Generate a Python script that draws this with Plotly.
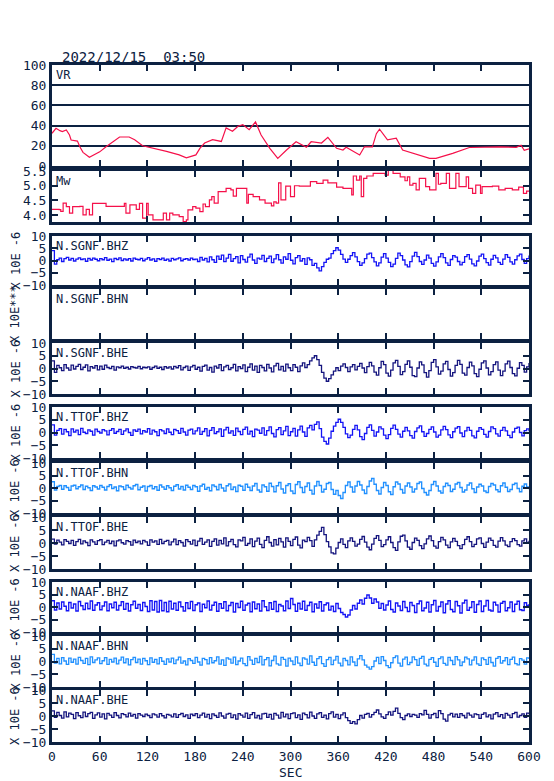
import plotly.graph_objects as go

# ---------------- data ----------------
VR_T = [0, 5, 10, 13, 18, 22, 24, 32, 35, 39, 47, 55, 60, 68, 76, 85, 97, 104, 114, 127, 144, 160, 169, 181,
        186, 192, 202, 213, 219, 227, 234, 240, 248, 256, 263, 274, 284, 295, 307, 320, 326, 339, 347, 358,
        366, 370, 387, 393, 403, 408, 412, 422, 433, 441, 458, 475, 483, 504, 525, 542, 563, 584, 590, 594, 600]
VR = [32.4, 37.3, 35.0, 34.0, 35.6, 30.7, 25.7, 24.7, 19.0, 13.5, 8.6, 12.0, 14.0, 19.0, 24.0, 28.7, 28.7, 26.0,
      20.0, 17.8, 14.5, 11.0, 8.0, 11.0, 17.5, 22.7, 26.0, 24.3, 37.7, 34.4, 39.4, 41.0, 36.0, 43.6, 30.7, 17.5,
      7.6, 15.8, 24.0, 18.6, 24.0, 22.7, 28.4, 17.5, 15.8, 18.5, 10.9, 19.0, 19.0, 32.0, 36.4, 26.0, 27.6, 15.8,
      11.6, 7.6, 7.6, 12.5, 18.3, 18.5, 19.0, 18.5, 20.5, 15.6, 17.0]

MW_T = [0, 9, 11, 14, 18, 22, 26, 35, 39, 43, 47, 51, 60, 68, 89, 91, 93, 98, 106, 110, 114, 119, 121, 127,
        135, 140, 144, 148, 152, 160, 165, 169, 171, 177, 181, 186, 190, 193, 198, 201, 204, 209, 219, 225,
        228, 232, 240, 245, 247, 253, 261, 268, 276, 279, 282, 285, 288, 294, 300, 305, 311, 322, 325, 333,
        341, 347, 358, 366, 373, 377, 379, 383, 387, 389, 392, 396, 404, 413, 419, 423, 429, 438, 444, 447,
        450, 454, 458, 462, 470, 475, 483, 486, 489, 496, 500, 508, 512, 521, 524, 529, 533, 539, 541, 554,
        562, 570, 579, 587, 593, 597, 600]
MW = [4.20, 4.19, 4.13, 4.41, 4.29, 4.07, 4.29, 4.30, 4.01, 4.20, 4.01, 4.40, 4.40, 4.30, 4.30, 4.40, 4.07,
      4.35, 4.20, 4.40, 3.90, 4.40, 4.01, 3.84, 3.84, 4.07, 3.84, 4.07, 4.01, 3.95, 3.78, 3.84, 4.18, 4.29,
      4.24, 4.12, 4.38, 4.29, 4.52, 4.63, 4.41, 4.80, 4.91, 4.86, 4.65, 4.91, 4.91, 4.41, 4.71, 4.63, 4.52,
      4.41, 4.32, 4.45, 4.41, 5.10, 4.52, 4.99, 4.63, 5.00, 4.99, 4.99, 5.14, 5.08, 5.19, 5.10, 4.95, 4.91,
      4.91, 4.69, 5.33, 5.19, 5.33, 4.63, 5.25, 5.33, 5.42, 5.42, 5.36, 5.53, 5.42, 5.30, 5.17, 5.30, 5.02,
      5.08, 4.86, 5.25, 4.97, 4.86, 5.42, 5.05, 5.08, 5.42, 4.91, 5.42, 4.97, 5.30, 4.91, 4.74, 5.02, 4.74,
      4.97, 4.99, 4.86, 4.91, 4.86, 4.95, 4.74, 4.82, 4.82]

WAVE_T = list(range(0, 601, 3))

SGNF_BHZ = [
    4.0, -1.5, 0.3, 1.0, -0.4, 0.8, 1.3, 0.2, 0.9, -0.2,
    0.6, 1.1, 0.4, 0.7, -0.3, 0.9, 0.2, 1.0, 0.5, -0.1,
    0.8, 0.3, 1.2, 0.1, 0.6, -0.5, 0.9, 0.4, 1.1, 0.0,
    0.7, 0.2, 0.8, -0.2, 1.0, 0.5, 0.3, 0.9, -0.1, 0.6,
    1.2, 0.2, 0.7, -0.3, 0.8, 0.4, 1.0, 0.1, 0.6, -0.2,
    0.9, 0.3, 0.7, 1.1, -0.1, 0.5, 0.8, 0.2, 1.0, 0.4,
    0.6, -0.4, 1.3, 0.2, 0.9, -0.6, 1.5, 0.3, -0.8, 1.8,
    0.5, 2.2, -0.5, 1.0, 2.5, -0.3, 0.8, 1.6, -1.0, 2.0,
    0.4, -0.7, 1.4, 2.6, 0.2, -1.2, 1.0, 0.6, 2.1, -0.4,
    0.9, 1.8, -0.9, 0.7, 2.4, 0.3, -1.1, 1.5, 0.5, 2.8,
    0.1, -1.4, 1.2, 2.0, -0.2, 0.8, -1.6, 1.1, 0.3, -2.0,
    -1.2, -3.0, -4.2, -2.5, -0.8, 0.5, 1.0, 2.8, 4.0, 5.2,
    4.2, 2.5, 0.6, -0.8, 0.5, 2.0, 3.2, 1.5, -0.5, -2.0,
    -1.0, 0.8, 2.6, 3.0, 1.2, -0.6, -2.2, -1.0, 1.4, 2.8,
    1.0, -0.8, -2.5, -1.5, 0.9, 3.0, 2.0, 0.2, -1.8, -2.6,
    -0.5, 1.8, 3.3, 1.6, -0.4, -1.6, 0.2, 2.2, 1.0, -1.2,
    -2.3, -0.6, 1.5, 2.8, 1.2, -1.0, -2.0, 0.4, 2.0, 1.4,
    -0.4, -1.8, -0.8, 1.6, 2.4, 0.6, -1.4, -2.2, -0.2, 1.8,
    2.6, 0.8, -0.9, -1.9, 0.5, 2.1, 1.1, -0.8, -1.6, 0.6,
    2.4, 1.3, -0.6, -1.5, 0.3, 1.9, 2.6, 0.4, -1.2, 0.8,
    2.0]

SGNF_BHE = [
    3.0, -1.5, 1.2, 0.3, -0.8, 1.5, 0.2, -0.6, 1.3, -0.2,
    0.8, 1.6, -0.4, 0.5, 1.4, -0.9, 0.7, 0.2, 1.1, -0.5,
    0.9, -0.3, 1.3, 0.4, 0.0, 0.8, -0.6, 0.6, 0.3, 0.9,
    0.1, 0.5, -0.2, 0.7, 0.4, 0.2, 0.8, -0.1, 0.5, 0.3,
    0.6, -0.3, 0.4, 0.9, 0.1, 0.5, -0.4, 0.7, 0.2, 0.6,
    -0.2, 0.8, 0.3, 1.1, -0.5, 0.4, 0.9, -0.7, 0.6, 1.2,
    -0.3, 0.5, -1.0, 0.8, 1.3, -0.6, 0.4, -1.4, 0.9, 0.2,
    1.5, -0.8, 0.6, 1.2, -0.4, 0.3, 1.6, -0.9, 0.7, 0.0,
    1.4, -1.2, 0.5, 1.8, -0.6, 0.9, -1.5, 1.2, 0.4, -0.9,
    1.6, 0.2, -1.3, 1.0, 2.0, -0.5, 0.8, -1.0, 1.7, 0.3,
    -0.8, 1.5, 0.5, -1.2, 1.0, 2.2, 0.4, 1.5, 3.0, 4.2,
    5.0, 3.5, 1.2, -1.5, -3.8, -5.0, -4.0, -2.5, -1.0, 0.3,
    -0.8, 0.9, 1.8, 0.4, -1.2, 0.6, 1.5, -0.5, 0.8, 2.0,
    0.2, -1.6, 0.7, 2.4, 1.0, -1.4, -2.6, 0.3, 2.8, 1.5,
    -1.8, -3.0, -0.6, 2.2, 3.2, 0.8, -2.4, -1.2, 1.6, 3.0,
    0.5, -2.8, -3.2, 0.2, 2.6, 1.4, -1.6, -3.4, -0.8, 2.4,
    3.5, 0.6, -2.2, -1.0, 1.8, 2.8, -0.4, -3.0, -1.6, 1.2,
    3.2, 1.6, -1.8, -2.6, 0.4, 2.5, 1.0, -2.0, -3.2, -0.3,
    2.2, 3.0, 0.2, -2.5, -1.2, 1.5, 2.6, -0.6, -2.8, -1.0,
    1.8, 2.9, 0.4, -2.0, -2.9, 0.1, 2.3, 1.2, -1.4, 0.6,
    2.2]

TTOF_BHZ = [
    3.0, -1.0, 0.8, 1.5, -0.6, 1.2, 0.3, -1.2, 1.4, 0.2,
    0.9, -0.8, 1.6, 0.1, -0.4, 1.0, 0.5, -1.0, 1.3, 0.4,
    -0.2, 1.1, 0.6, -0.9, 0.8, 1.5, -0.3, 0.4, 1.2, -0.7,
    0.6, 1.4, 0.0, -1.1, 1.0, 0.5, 1.3, -0.5, 0.7, 0.2,
    1.5, -0.6, 0.9, 0.3, -1.2, 1.1, 0.6, -0.4, 1.4, 0.1,
    -0.8, 1.2, 0.7, -0.3, 1.6, 0.2, -1.0, 0.9, 1.3, -0.5,
    0.6, 1.8, -0.7, 0.4, 1.5, -1.3, 0.8, 1.9, -0.4, 0.3,
    1.4, -1.5, 1.0, 2.0, -0.2, 0.6, -1.1, 1.7, 0.4, -0.8,
    1.2, 2.1, -0.6, 0.5, -1.6, 1.3, 0.9, -0.3, 1.8, -1.0,
    0.7, 2.2, -0.4, -1.7, 1.1, 1.9, -0.8, 0.6, 2.4, -1.2,
    0.3, 1.6, -1.4, 1.0, 2.5, 0.2, -1.5, 1.8, 2.8, 1.0,
    3.2, 4.2, 1.5, -1.8, -3.5, -4.5, -2.2, 0.5, 2.5, 4.0,
    5.2, 4.0, 2.0, -0.5, -2.0, -1.0, 1.2, 2.8, 1.0, -1.6,
    -2.8, -0.4, 2.0, 3.0, 0.8, -1.4, 0.2, 2.2, 1.4, -1.0,
    -2.4, -0.8, 1.6, 2.9, 1.2, -0.6, -1.8, 0.5, 2.0, 0.6,
    -1.2, -2.2, 0.4, 1.8, 2.6, 0.3, -1.5, -0.4, 1.2, 2.2,
    0.2, -1.8, -1.0, 1.0, 2.4, 1.1, -0.9, -2.0, 0.3, 1.7,
    2.3, -0.2, -1.6, 0.6, 2.0, 0.8, -1.3, -2.1, 0.5, 1.9,
    1.2, -0.7, -1.8, 0.4, 2.2, 1.5, -0.5, -1.4, 0.8, 2.0,
    0.6, -1.1, -2.0, 0.2, 1.6, 2.1, 0.0, -1.3, 0.7, 1.4,
    0.5]

TTOF_BHN = [
    2.5, -0.8, 0.6, 1.0, -0.5, 0.9, 0.2, -0.9, 0.8, 1.1,
    -0.3, 0.5, 1.2, -0.6, 0.7, 0.1, -1.0, 0.9, 0.4, -0.4,
    1.0, 0.3, -0.8, 0.6, 1.3, -0.2, 0.4, -1.1, 0.8, 0.5,
    -0.6, 1.1, 0.2, -0.4, 0.9, 1.4, -0.7, 0.3, 0.8, -1.2,
    0.6, 1.0, -0.3, 0.5, -0.9, 1.2, 0.4, -0.5, 0.9, 0.1,
    -1.0, 0.7, 1.3, -0.4, 0.6, -0.8, 1.1, 0.3, -0.6, 1.0,
    0.5, -1.3, 0.8, 1.5, -0.5, 0.2, -1.1, 1.2, 0.6, -0.7,
    1.4, 0.0, -1.2, 0.9, 1.6, -0.6, 0.4, -1.4, 1.1, 0.7,
    -0.9, 1.5, 0.3, -1.0, 0.8, 1.8, -0.8, -1.6, 1.2, 0.5,
    -1.3, 1.9, 0.6, -1.5, 0.9, 2.2, -0.4, -2.0, 1.0, 1.7,
    -1.2, -2.2, 1.4, 2.5, 0.2, -1.8, 0.6, 2.0, -0.9, -2.4,
    0.8, 2.6, 1.0, -1.6, -0.5, 1.8, 2.2, -0.6, -2.5, -1.0,
    -3.0, -4.2, -1.8, 1.0, 2.4, 0.4, -1.6, 0.8, 2.6, 1.2,
    -0.8, -2.2, 0.6, 2.8, 3.8, 1.5, -1.0, -2.4, 0.2, 2.2,
    1.0, -1.5, -2.6, 0.5, 2.4, 1.6, -0.6, -2.0, 0.8, 2.0,
    0.4, -1.6, -0.4, 1.8, 2.4, -0.2, -1.8, -2.8, -1.0, 1.4,
    2.6, 0.8, -1.2, -2.0, 0.6, 1.9, 1.0, -1.4, -0.5, 1.6,
    2.2, 0.2, -1.6, -0.8, 1.2, 2.0, -0.3, -1.8, 0.4, 1.5,
    0.8, -1.2, -1.8, 0.6, 1.8, 1.2, -0.7, -1.5, 0.9, 2.0,
    0.3, -1.4, -0.6, 1.4, 1.9, -0.2, -1.5, 0.7, 1.6, 0.4,
    -0.5]

TTOF_BHE = [
    1.5, -0.4, 1.1, 0.3, -0.7, 1.3, 0.6, -0.2, 1.0, -0.9,
    0.5, 1.4, -0.3, 0.8, 0.2, -1.0, 1.2, 0.4, -0.5, 0.9,
    1.3, -0.6, 0.3, 1.0, -0.2, 0.7, -1.1, 0.8, 1.2, 0.1,
    -0.4, 0.9, 0.5, -0.8, 1.1, 0.2, 0.7, -0.3, 1.0, 0.4,
    -0.9, 1.2, 0.3, 0.8, -0.5, 1.4, -0.2, 0.6, 1.0, -0.7,
    0.4, 1.5, -0.6, 0.9, 0.2, -1.2, 1.3, 0.5, -0.4, 1.1,
    -1.0, 0.7, 1.8, -0.5, 0.3, 1.2, -1.3, 0.6, 1.6, -0.8,
    1.0, -0.3, 2.0, -1.1, 0.5, 1.4, -0.6, -1.5, 1.2, 0.8,
    2.2, -0.9, -0.2, 1.6, -1.4, 0.7, 1.9, -0.5, -1.8, 1.0,
    2.4, 0.2, -1.2, 1.3, -0.7, 1.8, 0.4, -1.6, 2.0, 0.6,
    -1.0, 1.4, 2.3, -0.8, -1.9, 1.1, 0.5, 2.2, 0.9, -1.3,
    1.2, 3.0, 4.5, 6.0, 3.2, 0.5, -1.5, -3.8, -4.2, -2.0,
    0.2, 1.6, -0.5, -1.8, 0.8, 2.0, 0.6, -1.2, -0.4, 1.4,
    2.5, 0.3, -1.6, -2.6, -0.4, 1.8, 2.8, 1.0, -1.4, -0.6,
    1.2, 2.4, 0.2, -1.8, -2.8, 0.4, 2.6, 3.0, 0.8, -1.6,
    -2.4, 0.2, 1.9, 1.0, -1.0, -2.2, -0.3, 1.6, 2.7, 0.9,
    -1.2, -2.0, 0.5, 2.2, 1.2, -0.8, -1.8, 0.4, 1.8, 0.6,
    -1.0, -2.2, -0.6, 1.4, 2.4, 0.5, -1.4, -0.5, 1.6, 2.0,
    -0.2, -1.7, 0.3, 1.9, 1.0, -0.9, -1.6, 0.7, 2.1, 0.8,
    -0.8, -1.4, 0.5, 1.7, 0.9, -0.6, -1.2, 0.8, 1.6, 0.2,
    0.9]

NAAF_BHZ = [
    2.5, -1.2, 1.6, -0.8, 2.0, 0.3, -1.5, 1.8, -0.4, 1.2,
    -1.6, 2.2, 0.5, -1.0, 1.5, -0.7, 2.4, -1.3, 0.8, 1.7,
    -1.1, 0.4, 2.0, -1.5, 1.2, -0.3, 1.9, -1.2, 0.6, 2.1,
    -0.9, 1.4, -1.6, 0.9, 2.3, -0.5, 1.0, -1.4, 1.8, 0.2,
    -1.8, 2.5, -1.2, 2.2, -2.0, 2.6, -1.5, 1.8, -1.9, 2.3,
    -0.8, 1.5, -1.3, 2.0, 0.1, -1.6, 1.7, -0.6, 2.2, -1.4,
    0.9, 1.6, -1.8, 1.1, -0.3, 2.4, -1.2, 0.7, 1.9, -1.7,
    1.3, -0.5, 2.1, -1.5, 0.6, 1.8, -2.0, 1.4, -0.2, 2.3,
    -1.3, 0.8, 1.5, -1.9, 2.0, -0.7, 1.2, -1.6, 2.5, 0.1,
    -1.4, 1.7, -0.9, 2.2, -1.8, 1.0, 0.4, -1.5, 2.4, -0.6,
    3.4, 1.0, -1.7, 1.5, -0.8, 2.3, -1.3, 0.6, 1.9, -1.9,
    1.2, -0.4, 2.1, -1.6, 0.9, 1.6, -1.2, 0.3, -1.8, 1.4,
    -0.6, -2.2, -3.0, -4.0, -3.2, -1.2, 0.6, -0.8, 1.5, 2.8,
    1.2, 3.5, 4.8, 3.6, 1.5, 3.2, 2.0, -0.5, 1.4, -1.2,
    0.8, 2.4, -1.0, -2.0, 1.6, 0.4, -1.4, 2.2, -0.2, -1.8,
    1.8, 0.6, -2.2, 1.3, 2.4, -1.5, -0.4, 1.9, -2.0, 0.9,
    2.6, -1.6, 0.2, 2.0, -2.3, 1.2, 2.5, -1.0, -1.9, 2.2,
    0.5, -2.4, 1.6, 2.7, -1.3, -0.2, 2.1, -2.1, 1.0, 2.4,
    -1.8, 0.4, 2.6, -1.2, -1.6, 1.9, 0.8, -2.0, 1.5, 2.2,
    -1.5, -0.3, 2.0, -1.8, 1.1, 2.3, -1.1, -1.4, 1.7, 0.6,
    1.2]

NAAF_BHN = [
    2.8, -0.6, 1.2, -0.9, 1.5, 0.2, -1.1, 1.3, -0.3, 0.9,
    -1.0, 1.6, 0.4, -0.7, 1.2, -1.2, 1.8, -0.4, 0.6, 1.4,
    -0.8, 0.3, 1.5, -1.1, 0.8, -0.2, 1.3, -0.9, 0.5, 1.7,
    -0.5, 1.0, -1.3, 0.7, 1.6, -0.4, 0.9, -1.0, 1.2, 0.3,
    -1.2, 1.4, -0.3, 0.8, -0.9, 1.5, 0.1, -1.1, 1.0, -0.2,
    1.3, -0.8, 0.6, 1.7, -0.6, 0.2, -1.3, 1.1, 0.4, -0.7,
    1.6, -0.2, -1.4, 1.2, 0.7, -0.9, 1.5, -0.5, 0.3, 1.8,
    -1.0, 0.6, -1.5, 1.4, 0.9, -0.6, 1.7, -1.2, 0.2, 1.3,
    -0.8, -1.6, 1.9, 0.5, -1.1, 1.2, -0.4, 2.0, -1.3, 0.7,
    1.5, -1.7, 0.4, 2.1, -0.9, -1.4, 1.6, 0.8, -1.8, 1.3,
    0.2, -1.2, 1.8, -0.6, -1.6, 1.4, 0.9, -1.0, 2.2, -0.3,
    -1.5, 1.1, 1.9, -0.8, -1.9, 0.7, 1.6, -1.2, 0.5, 2.0,
    -0.6, -1.7, 1.2, 0.4, -1.3, 1.8, -0.2, -1.6, 1.0, 2.3,
    0.6, -1.4, -2.2, -3.0, -2.0, 0.2, 1.6, -0.8, 1.9, 0.4,
    -1.6, -2.4, -0.5, 1.5, 2.2, -0.6, -1.8, 0.9, 1.7, -1.2,
    -0.4, 1.8, 0.7, -1.5, 1.2, 2.0, -1.0, -1.7, 0.8, 1.5,
    -0.3, -1.9, 1.1, 1.8, -0.7, -1.4, 1.6, 0.4, -1.2, 1.9,
    0.6, -1.6, -0.2, 1.7, 1.0, -1.3, 0.5, 1.8, -0.9, -1.5,
    1.4, 0.7, -1.1, 1.6, -0.4, -1.8, 1.2, 1.9, -0.6, 0.3,
    1.5, -1.2, 0.8, 1.7, -0.8, -1.3, 1.1, 0.5, -1.0, 1.4,
    1.0]

NAAF_BHE = [
    2.0, -0.5, 1.4, 0.2, -0.8, 1.6, -0.3, 1.1, 0.6, -1.0,
    1.3, 0.1, -0.6, 1.5, -0.2, 0.9, 1.4, -0.9, 0.4, 1.2,
    -0.4, 0.8, -1.1, 1.0, 0.3, -0.5, 1.3, 0.2, -0.7, 0.9,
    0.5, -0.3, 1.1, 0.0, 0.6, -0.8, 0.9, 0.3, -0.2, 0.7,
    0.2, -0.6, 0.8, 0.4, -0.4, 0.9, 0.1, -0.7, 0.6, 0.3,
    -0.3, 0.8, -0.5, 0.5, 1.0, -0.2, 0.4, -0.9, 0.7, 0.2,
    0.9, -0.6, 0.3, 1.1, -0.4, 0.6, -1.0, 0.8, 0.2, -0.5,
    1.2, 0.0, -0.8, 0.7, 1.0, -0.6, 0.4, -1.2, 0.9, 0.3,
    -0.4, 1.1, -0.9, 0.5, 1.3, -0.7, 0.2, -1.1, 0.8, 1.0,
    -0.5, 0.6, -1.2, 1.0, 0.3, -0.8, 1.4, -0.3, 0.7, -1.0,
    0.9, 1.2, -0.6, 0.4, -1.3, 1.1, 0.5, -0.7, 1.5, 0.0,
    -0.9, 0.8, 1.3, -0.5, 0.3, -1.1, 0.9, 1.6, -0.4, 0.6,
    -1.0, 0.4, 1.2, -0.6, -1.8, -2.8, -2.2, -3.0, -1.4, 0.2,
    -0.8, 0.6, 1.0, -0.4, 0.5, 1.4, 2.3, 0.8, -0.3, -0.9,
    0.5, 1.6, 0.3, 1.8, 3.0, 1.0, -0.6, -1.4, 0.2, 0.8,
    -0.2, 0.6, 0.3, -0.5, 0.9, 0.4, 2.2, 0.6, -0.8, 0.5,
    1.0, -0.6, 2.1, 0.9, -1.2, -2.0, 0.4, 1.0, -0.3, 0.7,
    -0.5, 0.9, 0.2, -0.7, 1.1, 0.3, -0.4, 0.8, 0.5, -0.9,
    0.6, 1.2, -0.3, 0.4, -1.1, 0.7, 1.3, -0.2, 0.5, -0.8,
    1.0, 0.3, -0.6, 0.9, 1.4, -0.4, 0.2, 0.8, -0.5, 1.1,
    0.7]

X_TICKS = [0, 60, 120, 180, 240, 300, 360, 420, 480, 540, 600]
VR_TICKS = [0, 20, 40, 60, 80, 100]
MW_TICKS = [4.0, 4.5, 5.0, 5.5]
AMP_TICKS = [-10, -5, 0, 5, 10]

TITLE = "2022/12/15  03:50"
# (label, series, colour-key) for each waveform panel, top to bottom
WAVES = [
    ("N.SGNF.BHZ", SGNF_BHZ, "Z"), ("N.SGNF.BHN", None, "N"), ("N.SGNF.BHE", SGNF_BHE, "E"),
    ("N.TTOF.BHZ", TTOF_BHZ, "Z"), ("N.TTOF.BHN", TTOF_BHN, "N"), ("N.TTOF.BHE", TTOF_BHE, "E"),
    ("N.NAAF.BHZ", NAAF_BHZ, "Z"), ("N.NAAF.BHN", NAAF_BHN, "N"), ("N.NAAF.BHE", NAAF_BHE, "E"),
]

# ---------------- style / layout ----------------
OFF = 8                      # page body margin of the html page
W, H = 554 - OFF, 781 - OFF
PX_L, PX_R, PX_T, PX_B = 52 - OFF, 529 - OFF, 65 - OFF, 742 - OFF
NAVY = "#0c2141"
RED = "#f5104a"
COL = {"Z": "#1414f5", "N": "#2090ff", "E": "#14147e"}
MONO = "DejaVu Sans Mono"

PANELS_PX = [(65, 166), (171, 222),
             (236, 285), (289, 339), (343, 394),
             (407, 458), (463, 513), (517, 569),
             (582, 632), (636, 687), (690, 742)]


def fy(px):
    return (PX_B - (px - OFF)) / (PX_B - PX_T)


def fx(px):
    return ((px - OFF) - PX_L) / (PX_R - PX_L)


fig = go.Figure()
n = len(PANELS_PX)


def ax(k, kind):
    return (kind if k == 1 else f"{kind}{k}")


# VR
fig.add_trace(go.Scatter(x=VR_T, y=VR, mode="lines", line=dict(color=RED, width=1.2),
                         xaxis="x", yaxis="y", showlegend=False, hoverinfo="skip"))
# Mw
fig.add_trace(go.Scatter(x=MW_T, y=MW, mode="lines", line=dict(color=RED, width=1.2, shape="hv"),
                         xaxis="x2", yaxis="y2", showlegend=False, hoverinfo="skip"))
for j, (lab, ser, c) in enumerate(WAVES):
    k = j + 3
    if ser is None:
        # empty channel: keep the panel frame
        fig.add_trace(go.Scatter(x=[None], y=[None], mode="lines", xaxis=ax(k, "x"), yaxis=ax(k, "y"),
                                 showlegend=False, hoverinfo="skip"))
        continue
    fig.add_trace(go.Scatter(x=WAVE_T, y=ser, mode="lines", line=dict(color=COL[c], width=1.3, shape="hv"),
                             xaxis=ax(k, "x"), yaxis=ax(k, "y"), showlegend=False, hoverinfo="skip"))

layout = dict(width=W, height=H, paper_bgcolor="white", plot_bgcolor="white",
              margin=dict(l=PX_L, r=W - PX_R, t=PX_T, b=H - PX_B, pad=0, autoexpand=False),
              font=dict(family=MONO, size=13, color=NAVY), showlegend=False)

annotations = []
for k in range(1, n + 1):
    top, bot = PANELS_PX[k - 1]
    xname = "xaxis" if k == 1 else f"xaxis{k}"
    yname = "yaxis" if k == 1 else f"yaxis{k}"
    layout[xname] = dict(domain=[0, 1], range=[0, 600], anchor=ax(k, "y"),
                         tickvals=X_TICKS, ticks="inside", ticklen=6, tickwidth=1.5, tickcolor=NAVY,
                         showline=True, linewidth=3, linecolor=NAVY, mirror="allticks",
                         showgrid=False, zeroline=False, showticklabels=(k == n),
                         tickfont=dict(family=MONO, size=13, color=NAVY))
    ydict = dict(domain=[fy(bot), fy(top)], anchor=ax(k, "x"), ticks="inside", ticklen=6,
                 tickwidth=1.5, tickcolor=NAVY, showline=True, linewidth=3, linecolor=NAVY,
                 mirror="allticks", zeroline=False, showgrid=False,
                 tickfont=dict(family=MONO, size=13, color=NAVY))
    if k == 1:
        ydict.update(range=[0, 100], tickvals=VR_TICKS, showgrid=True, gridcolor=NAVY, gridwidth=1.5)
        lab = "VR"
    elif k == 2:
        ydict.update(range=[3.77, 5.5], tickvals=MW_TICKS, ticktext=[f"{v:.1f}" for v in MW_TICKS])
        lab = "Mw"
    else:
        lab = WAVES[k - 3][0]
        empty = WAVES[k - 3][1] is None
        if empty:
            ydict.update(range=[-10, 10], ticks="", showticklabels=False, mirror=True)
        else:
            ydict.update(range=[-10, 10], tickvals=AMP_TICKS)
        ytitle = "X 10E***" if empty else "X 10E -6"
        annotations.append(dict(text=ytitle, xref="paper", yref="paper", x=fx(15), y=fy((top + bot) / 2),
                                textangle=-90, showarrow=False, xanchor="center", yanchor="middle",
                                font=dict(family=MONO, size=12, color=NAVY)))
    layout[yname] = ydict
    annotations.append(dict(text=lab, xref="paper", yref="paper", x=fx(54), y=fy(top + 1),
                            xanchor="left", yanchor="top", showarrow=False,
                            font=dict(family=MONO, size=12, color=NAVY)))

annotations.append(dict(text=TITLE, xref="paper", yref="paper", x=fx(60), y=fy(57),
                        xanchor="left", yanchor="middle", showarrow=False,
                        font=dict(family=MONO, size=14, color=NAVY)))
annotations.append(dict(text="SEC", xref="paper", yref="paper", x=fx(290), y=fy(772),
                        xanchor="center", yanchor="middle", showarrow=False,
                        font=dict(family=MONO, size=13, color=NAVY)))
layout["annotations"] = annotations

fig.update_layout(**layout)
fig.write_html("out.html")
